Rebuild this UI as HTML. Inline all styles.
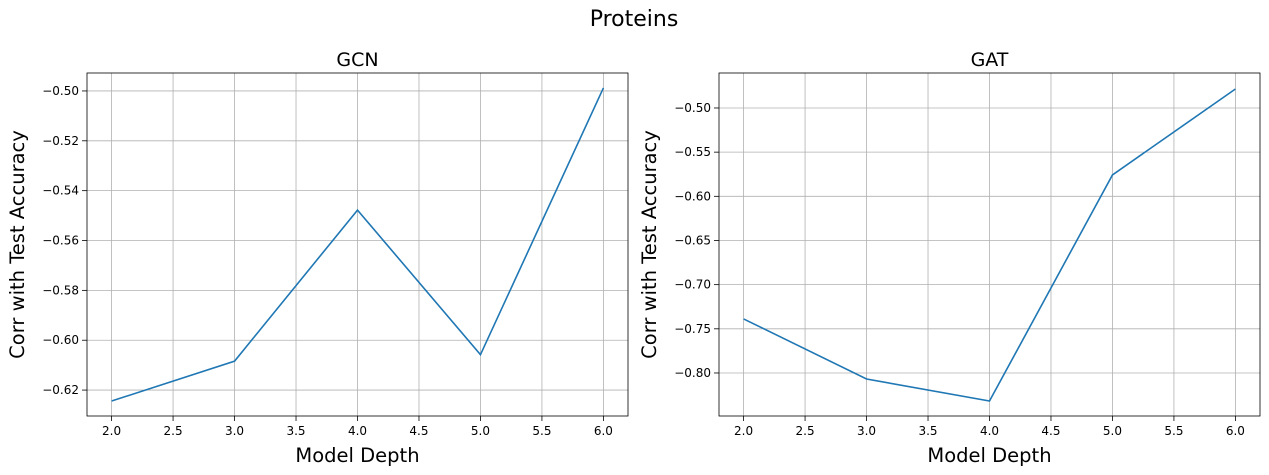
<!DOCTYPE html>
<html><head><meta charset="utf-8"><style>
html,body{margin:0;padding:0;background:#fff;}
svg{display:block;font-family:"DejaVu Sans","Liberation Sans",sans-serif;}
</style></head><body>
<svg id="c" width="1269" height="475" viewBox="0 0 1269 475">
<text x="634" y="26" font-size="22" text-anchor="middle">Proteins</text>
</svg>
<script>
const depths = [2, 3, 4, 5, 6];
const gcnValues = [-0.6244, -0.6084, -0.5478, -0.6058, -0.4988];
const gatValues = [-0.7388, -0.8068, -0.8317, -0.5758, -0.4785];
const xTicks = [2.0, 2.5, 3.0, 3.5, 4.0, 4.5, 5.0, 5.5, 6.0];
const gcnYTicks = [-0.62, -0.60, -0.58, -0.56, -0.54, -0.52, -0.50];
const gatYTicks = [-0.80, -0.75, -0.70, -0.65, -0.60, -0.55, -0.50];

const NS = "http://www.w3.org/2000/svg";
const svg = document.getElementById('c');
function mk(tag, attrs, parent){
  const e = document.createElementNS(NS, tag);
  for (const k in attrs) e.setAttribute(k, attrs[k]);
  (parent||svg).appendChild(e);
  return e;
}
function panel(key, box, title, ylim, yTicks, values, dec){
  const g = mk('g', {});
  
  
  const [x0, y0, x1, y1] = box;
  const sx = v => x0 + (v - 1.8) / (6.2 - 1.8) * (x1 - x0);
  const sy = v => y1 - (v - ylim[0]) / (ylim[1] - ylim[0]) * (y1 - y0);
  xTicks.forEach(t => {
    const X = sx(t);
    const l = mk('line', {x1:X, x2:X, y1:y0, y2:y1, stroke:'#b0b0b0', 'stroke-width':0.8}, g);
    
    
    mk('line', {x1:X, x2:X, y1:y1, y2:y1+5, stroke:'#000', 'stroke-width':0.8}, g);
    const tx = mk('text', {x:X, y:y1+19, 'font-size':12, 'text-anchor':'middle'}, g);
    tx.textContent = t.toFixed(1);
    
    
  });
  yTicks.forEach(t => {
    const Y = sy(t);
    const l = mk('line', {x1:x0, x2:x1, y1:Y, y2:Y, stroke:'#b0b0b0', 'stroke-width':0.8}, g);
    
    
    mk('line', {x1:x0-5, x2:x0, y1:Y, y2:Y, stroke:'#000', 'stroke-width':0.8}, g);
    const tx = mk('text', {x:x0-8, y:Y+4, 'font-size':12, 'text-anchor':'end'}, g);
    tx.textContent = t.toFixed(dec).replace('-', '\u2212');
    
    
  });
  const pts = depths.map((d, i) => sx(d) + ',' + sy(values[i])).join(' ');
  const line = mk('polyline', {points:pts, fill:'none', stroke:'#1f77b4', 'stroke-width':1.6}, g);
  
  
  const r = mk('rect', {x:x0, y:y0, width:x1-x0, height:y1-y0, fill:'none', stroke:'#000', 'stroke-width':0.8}, g);
  
  
  const t = mk('text', {x:(x0+x1)/2, y:y0-7, 'font-size':19, 'text-anchor':'middle'}, g);
  t.textContent = title;
  
  
  const xl = mk('text', {x:(x0+x1)/2, y:y1+46, 'font-size':19.5, 'text-anchor':'middle'}, g);
  xl.textContent = 'Model Depth';
  
  
  const yx = x0 - 63, yy = (y0+y1)/2;
  const yl = mk('text', {x:yx, y:yy, 'font-size':19.5, 'text-anchor':'middle', transform:`rotate(-90 ${yx} ${yy})`}, g);
  yl.textContent = 'Corr with Test Accuracy';
  
  
}
panel('gcn', [87, 73, 628, 416], 'GCN', [-0.6304, -0.4928], gcnYTicks, gcnValues, 2);
panel('gat', [719, 73, 1260, 416], 'GAT', [-0.8487, -0.4604], gatYTicks, gatValues, 2);
</script>
</body></html>
